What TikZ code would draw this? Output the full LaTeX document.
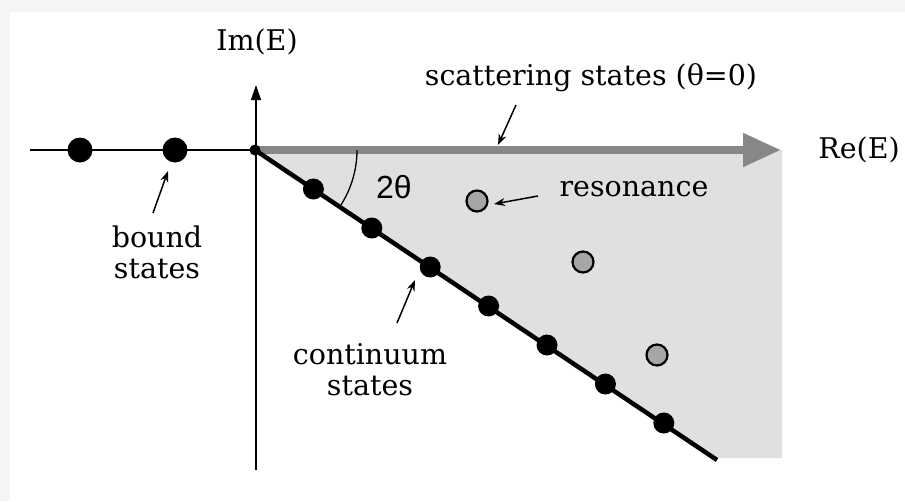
\documentclass[tikz,border=0pt]{standalone}
\usepackage{fontspec}
\setmainfont{DejaVu Serif}
\newfontfamily\sansf{Liberation Sans}
\usetikzlibrary{arrows.meta,calc}
\begin{document}
\begin{tikzpicture}[x=1pt,y=-1pt,
  dot/.style={circle,fill=black,inner sep=0pt,minimum size=25pt},
  cdot/.style={circle,fill=black,inner sep=0pt,minimum size=21pt},
  res/.style={circle,draw=black,line width=2.2pt,fill=black!35,inner sep=0pt,minimum size=21pt},
  lbl/.style={font=\fontsize{28.5}{31}\selectfont,align=center,inner sep=0pt},
  ptr/.style={line width=1.5pt,-{Stealth[length=11pt,width=8pt]}}]
\fill[black!4] (0,0) rectangle (905,501);
\fill[white] (10,12) rectangle (905,501);
\useasboundingbox (0,0) rectangle (905,501);
% origin and geometry
\coordinate (O) at (255,150);
\coordinate (lineend) at (717,460);
\coordinate (shadeTR) at (782,150);
\coordinate (shadeBR) at (782,458);
\coordinate (shadeBL) at (714,458);
% shaded sector
\fill[black!12] (O) -- (shadeTR) -- (shadeBR) -- (shadeBL) -- cycle;
% axes
\coordinate (imtop) at (256,85);
\coordinate (imbot) at (256,470);
\coordinate (releft) at (30,150);
\draw[line width=1.3pt] (releft) -- (O);
\draw[line width=1.3pt,-{Triangle[length=15pt,width=10pt]}] (imbot) -- (imtop);
% scattering bar
\coordinate (bartip) at (781,150);
\draw[line width=8pt,black!47,-{Triangle[length=38pt,width=32pt]}] (O) -- (bartip);
% rotated continuum line
\draw[line width=4.5pt] (O) -- (lineend);
\node[circle,fill=black,inner sep=0pt,minimum size=11pt] (o) at (O) {};
% angle arc
\draw[line width=1.3pt] (357,150) arc[start angle=0,end angle=33.7,radius=102];
\node[font=\sansf\fontsize{32}{34}\selectfont,inner sep=0pt] (ang) at (394,187) {2θ};
% bound states
\node[dot] (b1) at (80,150) {};
\node[dot] (b2) at (175,150) {};
% continuum states
\foreach \k in {1,...,7}{
  \node[cdot] (c\k) at ($(O)+(58.4*\k,39*\k)$) {};
}
% resonances
\node[res] (r1) at (477,201) {};
\node[res] (r2) at (583,262) {};
\node[res] (r3) at (657,355) {};
% labels
\node[lbl] (im) at (257,42) {Im(E)};
\node[lbl] (re) at (859,150) {Re(E)};
\node[lbl] (scat) at (591,78) {scattering states (θ=0)};
\node[lbl] (reso) at (634,189) {resonance};
\node[lbl] (bound) at (157,252) {bound\\states};
\node[lbl] (cont) at (370,370) {continuum\\states};
% pointers
\coordinate (pscatA) at (516,105);
\coordinate (pscatB) at (498,145);
\draw[ptr] (pscatA) -- (pscatB);
\coordinate (presA) at (538,196);
\coordinate (presB) at (494,204);
\draw[ptr] (presA) -- (presB);
\coordinate (pbA) at (153,213);
\coordinate (pbB) at (168,171);
\draw[ptr] (pbA) -- (pbB);
\coordinate (pcA) at (397,323);
\coordinate (pcB) at (415,280);
\draw[ptr] (pcA) -- (pcB);
\end{tikzpicture}
\end{document}
